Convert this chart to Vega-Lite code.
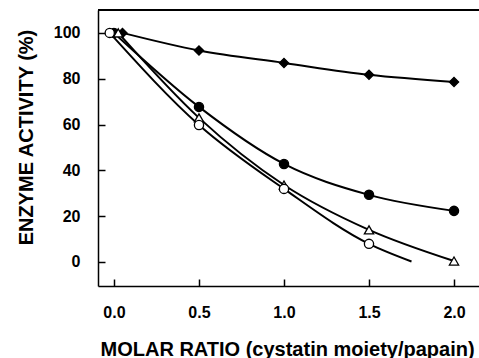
{
  "$schema": "https://vega.github.io/schema/vega-lite/v6.json",
  "width": 381,
  "height": 276,
  "autosize": {"type": "none"},
  "padding": {"left": 98, "top": 10, "right": 0, "bottom": 72},
  "background": "white",
  "config": {
    "view": {"stroke": null},
    "font": "Liberation Sans",
    "axis": {
      "domainColor": "black",
      "domainWidth": 1.5,
      "tickColor": "black",
      "tickWidth": 1.5,
      "tickSize": -7,
      "grid": false,
      "labelFont": "Liberation Sans",
      "labelFontWeight": "bold",
      "labelFontSize": 16,
      "labelColor": "black",
      "titleFont": "Liberation Sans",
      "titleFontWeight": "bold",
      "titleFontSize": 20,
      "titleColor": "black"
    }
  },
  "data": {
    "values": [
      {"s": "A", "x": 0.05, "y": 100, "m": true},
      {"s": "A", "x": 0.5, "y": 92.3, "m": true},
      {"s": "A", "x": 1.0, "y": 86.9, "m": true},
      {"s": "A", "x": 1.5, "y": 81.7, "m": true},
      {"s": "A", "x": 2.0, "y": 78.6, "m": true},
      {"s": "B", "x": 0.0, "y": 100, "m": true},
      {"s": "B", "x": 0.5, "y": 67.7, "m": true},
      {"s": "B", "x": 1.0, "y": 42.8, "m": true},
      {"s": "B", "x": 1.5, "y": 29.3, "m": true},
      {"s": "B", "x": 2.0, "y": 22.3, "m": true},
      {"s": "C", "x": 0.025, "y": 100, "m": true},
      {"s": "C", "x": 0.5, "y": 62.9, "m": true},
      {"s": "C", "x": 1.0, "y": 33.6, "m": true},
      {"s": "C", "x": 1.5, "y": 14.0, "m": true},
      {"s": "C", "x": 2.0, "y": 0.4, "m": true},
      {"s": "D", "x": -0.025, "y": 100, "m": true},
      {"s": "D", "x": 0.5, "y": 59.8, "m": true},
      {"s": "D", "x": 1.0, "y": 31.9, "m": true},
      {"s": "D", "x": 1.5, "y": 7.9, "m": true},
      {"s": "D", "x": 1.75, "y": 0.2, "m": false}
    ]
  },
  "layer": [
    {
      "mark": {"type": "line", "interpolate": "monotone", "color": "black"},
      "encoding": {
        "x": {
          "field": "x",
          "type": "quantitative",
          "scale": {"domain": [-0.094, 2.147], "nice": false, "zero": false},
          "axis": {
            "values": [0, 0.5, 1, 1.5, 2],
            "format": ".1f",
            "labelPadding": 25,
            "title": "MOLAR RATIO (cystatin moiety/papain)",
            "titleX": 2,
            "titleY": 69,
            "titleAlign": "left",
            "titleBaseline": "alphabetic"
          }
        },
        "y": {
          "field": "y",
          "type": "quantitative",
          "scale": {"domain": [-10.5, 110], "nice": false, "zero": false},
          "axis": {
            "values": [0, 20, 40, 60, 80, 100],
            "labelPadding": 25,
            "title": "ENZYME ACTIVITY (%)",
            "titleX": -72,
            "titleY": 127,
            "titleAngle": -90,
            "titleAlign": "center",
            "titleBaseline": "middle"
          }
        },
        "detail": {"field": "s"},
        "strokeWidth": {"field": "s", "type": "nominal", "scale": {"domain": ["A", "B", "C", "D"], "range": [2, 2, 1.4, 1.4]}, "legend": null}
      }
    },
    {
      "transform": [{"filter": "datum.m"}],
      "mark": {"type": "point", "filled": true, "stroke": "black", "strokeWidth": 1.3, "opacity": 1},
      "encoding": {
        "x": {"field": "x", "type": "quantitative"},
        "y": {"field": "y", "type": "quantitative"},
        "shape": {"field": "s", "type": "nominal", "scale": {"domain": ["A", "B", "C", "D"], "range": ["diamond", "circle", "triangle-up", "circle"]}, "legend": null},
        "fill": {"field": "s", "type": "nominal", "scale": {"domain": ["A", "B", "C", "D"], "range": ["black", "black", "white", "white"]}, "legend": null},
        "size": {"value": 85}
      }
    },
    {
      "mark": {"type": "rule", "color": "black", "strokeWidth": 1.5},
      "encoding": {"y": {"datum": 110, "type": "quantitative"}}
    }
  ]
}
